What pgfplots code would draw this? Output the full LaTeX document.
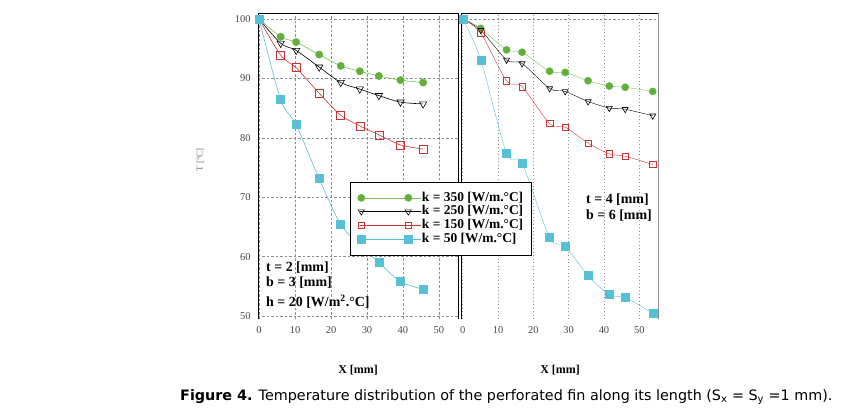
\documentclass[border=0pt]{standalone}
\usepackage{fontspec}
\setmainfont{Liberation Serif}
\newfontfamily\capfont{DejaVu Sans}
\usepackage{pgfplots}
\pgfplotsset{compat=1.18}

\definecolor{cgreen}{RGB}{98,176,60}
\definecolor{cgreenl}{RGB}{120,190,90}
\definecolor{cred}{RGB}{200,52,52}
\definecolor{ccyan}{RGB}{86,192,212}
\definecolor{cgrid}{RGB}{140,140,140}

\pgfplotstableread{
x     k350  k250  k150  k50
0     100   100   100   100
6.0   97.0  95.9  93.9  86.4
10.3  96.1  94.7  91.8  82.2
16.7  94.0  91.9  87.5  73.1
22.7  92.1  89.3  83.8  65.4
28.0  91.2  88.2  82.0  62.0
33.3  90.4  87.1  80.5  59.0
39.3  89.7  86.0  78.8  55.8
45.6  89.3  85.7  78.1  54.5
}\lefttab

\pgfplotstableread{
x     k350  k250  k150  k50
0     100   100   100   100
5.1   98.4  98.1  97.6  93.1
12.4  94.8  93.1  89.6  77.4
16.8  94.4  92.5  88.6  75.7
24.6  91.2  88.3  82.4  63.2
29.0  91.0  87.8  81.8  61.8
35.5  89.6  86.1  79.1  56.8
41.5  88.7  85.0  77.3  53.6
46.0  88.5  84.8  76.9  53.1
53.8  87.8  83.7  75.5  50.5
}\righttab

\pgfplotsset{
  panel/.style={
    scale only axis, height=306bp,
    ymin=49.5, ymax=101,
    ytick={50,60,...,100}, xtick={0,10,...,50},
    tick style={draw=none},
    axis line style={draw=none},
    clip=false,
    /pgf/number format/assume math mode=true,
    tick label style={font=\fontsize{10.5}{11}\selectfont, text=black!72},
    xticklabel style={yshift=-4bp},
    yticklabel style={xshift=-4bp},
  },
  g350/.style={color=cgreenl, line width=0.6pt, smooth, tension=0.5, mark=*, mark size=3.6bp, mark options={fill=cgreen, draw=cgreen}},
  g250/.style={color=black, line width=0.6pt, smooth, tension=0.5, mark=triangle, mark size=4.2bp, mark options={rotate=180, fill=white, draw=black, line width=0.6pt}},
  g150/.style={color=cred, line width=0.6pt, smooth, tension=0.5, mark=square, mark size=4bp, mark options={fill=white, draw=cred, line width=0.6pt}},
  g50/.style={color=ccyan, line width=0.6pt, smooth, tension=0.5, mark=square*, mark size=4bp, mark options={fill=ccyan, draw=ccyan}},
}

\begin{document}
\begin{tikzpicture}[x=1bp,y=1bp]
\path[use as bounding box] (0,0) rectangle (843,415);

% left panel
\begin{axis}[panel, at={(258bp,96bp)}, anchor=south west, width=200bp,
  xmin=-0.3, xmax=55.3,
  xmajorgrids, ymajorgrids,
  grid style={cgrid, dash pattern=on 2.5pt off 2pt, line width=0.5pt},
]
\draw[black, line width=0.8pt] (rel axis cs:0,0) -- (rel axis cs:0,1) -- (rel axis cs:1,1) -- (rel axis cs:1,0);
\addplot[g350] table[x=x,y=k350] {\lefttab};
\addplot[g250] table[x=x,y=k250] {\lefttab};
\addplot[g150] table[x=x,y=k150] {\lefttab};
\addplot[g50]  table[x=x,y=k50]  {\lefttab};
\end{axis}

% right panel
\begin{axis}[panel, at={(461bp,96bp)}, anchor=south west, width=197bp,
  xmin=-0.5, xmax=55.3,
  yticklabels={},
  xmajorgrids,
  grid style={cgrid, dash pattern=on 1pt off 2.5pt, line width=0.6pt},
  legend style={at={(axis description cs:-0.563,0.448)}, anchor=north west,
    draw=black, fill=white, font=\fontsize{13.5}{14}\selectfont\bfseries,
    inner xsep=7bp, inner ysep=9bp, row sep=0.3bp, cells={anchor=west},
    nodes={inner sep=0.5bp, text height=9.5bp, text depth=3bp}},
  legend image code/.code={\path (-1bp,0bp) -- (60bp,0bp);\draw[mark repeat=2,mark phase=1,#1] plot coordinates {(0bp,0bp) (23.5bp,0bp) (47bp,0bp)};},
]
\draw[cgrid, dash pattern=on 2.5pt off 2pt, line width=0.5pt] (axis cs:-0.5,100) -- (axis cs:55.3,100);
\draw[black, line width=0.8pt] (rel axis cs:0,0) -- (rel axis cs:0,1) -- (rel axis cs:1,1);
\draw[black!45, line width=0.8pt] (rel axis cs:1,1) -- (rel axis cs:1,0);
\addplot[g350, line width=0.4pt] table[x=x,y=k350] {\righttab};
\addplot[g250, line width=0.4pt, mark size=3.5bp] table[x=x,y=k250] {\righttab};
\addplot[g150, line width=0.4pt, mark size=3.2bp] table[x=x,y=k150] {\righttab};
\addplot[g50, line width=0.4pt]  table[x=x,y=k50]  {\righttab};
\legend{k = 350 [W/m.°C], k = 250 [W/m.°C], k = 150 [W/m.°C], k = 50 [W/m.°C]}
\end{axis}

% annotations
\tikzset{ann/.style={anchor=west, font=\fontsize{14}{15}\selectfont\bfseries, inner sep=0pt}}
\node[ann] at (266,147) {t = 2 [mm]};
\node[ann] at (266,132) {b = 3 [mm]};
\node[ann] at (266,113) {h = 20 [W/m\textsuperscript{2}.°C]};
\node[ann] at (586,215) {t = 4 [mm]};
\node[ann] at (586,199) {b = 6 [mm]};

% axis titles
\node[font=\fontsize{12}{13}\selectfont\bfseries] at (358,45) {X [mm]};
\node[font=\fontsize{12}{13}\selectfont\bfseries] at (560,45) {X [mm]};
\node[rotate=90, font=\fontsize{9}{10}\selectfont, text=black!55] at (200,255) {T [°C]};

% caption
\node[anchor=west, font=\capfont\fontsize{14.4}{16}\selectfont, inner sep=0pt] at (180,18)
  {\textbf{Figure 4.} Temperature distribution of the perforated fin along its length (S\textsubscript{x} = S\textsubscript{y} =1 mm).};
\end{tikzpicture}
\end{document}
